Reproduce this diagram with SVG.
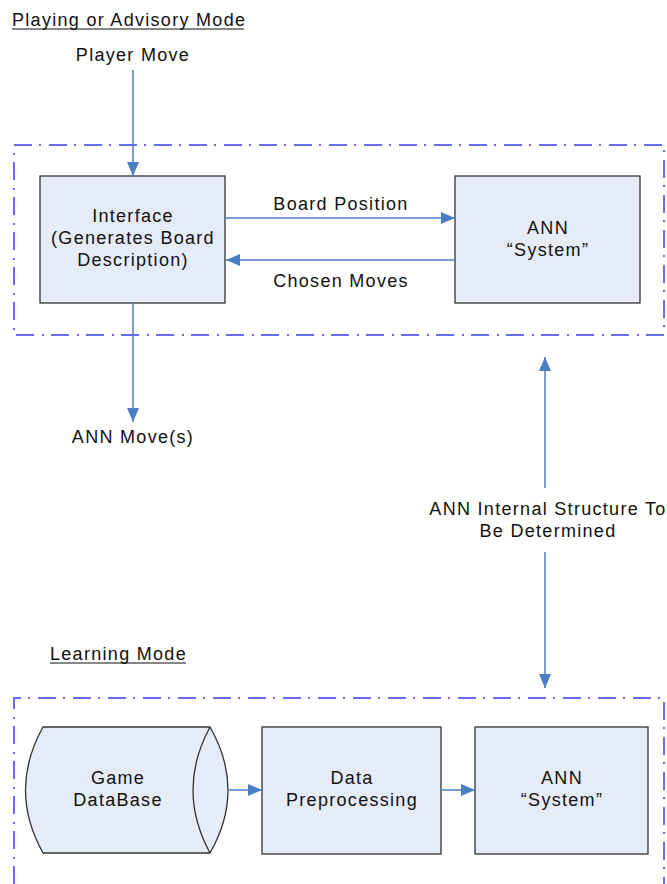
<svg xmlns="http://www.w3.org/2000/svg" width="667" height="884" viewBox="0 0 667 884">
<defs>
<style>
text{font-family:"Liberation Sans",Arial,sans-serif;font-size:18px;letter-spacing:1.3px;fill:#111;}
.c{text-anchor:middle;}
.box{fill:#E6ECF7;stroke:#333;stroke-width:1.3;}
.frame{fill:none;stroke:#6B6BF0;stroke-width:2;stroke-dasharray:18 7 2 8;}
.conn{stroke:#4A7EC4;stroke-width:1.5;fill:none;}
.ul{stroke:#111;stroke-width:1.2;}
</style>
<marker id="ah" viewBox="0 0 14 12" refX="14" refY="6" markerWidth="14" markerHeight="12" markerUnits="userSpaceOnUse" orient="auto-start-reverse">
<path d="M0,0 L14,6 L0,12 Z" fill="#4A7EC4"/>
</marker>
</defs>
<rect width="667" height="884" fill="#fff"/>

<g id="titles">
<text x="12" y="26">Playing or Advisory Mode</text>
<line class="ul" x1="12" y1="29" x2="244" y2="29"/>
<text x="50" y="660">Learning Mode</text>
<line class="ul" x1="50" y1="663" x2="186" y2="663"/>
</g>

<g id="frames">
<rect class="frame" x="14" y="145" width="650" height="190"/>
<path class="frame" d="M14,884 L14,698 L664,698 L664,884"/>
</g>

<g id="player-move"><text class="c" x="133" y="61">Player Move</text></g>

<g id="interface">
<rect class="box" x="40" y="176" width="185" height="127"/>
<text class="c" x="133" y="222">Interface</text>
<text class="c" x="133" y="244">(Generates Board</text>
<text class="c" x="133" y="266">Description)</text>
</g>

<g id="ann-top">
<rect class="box" x="455" y="176" width="185" height="127"/>
<text class="c" x="548" y="234">ANN</text>
<text class="c" x="548" y="256">“System”</text>
</g>

<g id="ann-moves"><text class="c" x="133" y="443">ANN Move(s)</text></g>

<g id="ann-structure-label">
<text class="c" x="548" y="515">ANN Internal Structure To</text>
<text class="c" x="548" y="537">Be Determined</text>
</g>

<g id="game-database">
<path class="box" d="M43,727 L210,727 Q246,790 210,853 L43,853 Q8,790 43,727 Z"/>
<path class="box" d="M210,727 Q176,790 210,853"/>
<text class="c" x="118" y="784">Game</text>
<text class="c" x="118" y="806">DataBase</text>
</g>

<g id="data-preprocessing">
<rect class="box" x="262" y="727" width="179" height="127"/>
<text class="c" x="352" y="784">Data</text>
<text class="c" x="352" y="806">Preprocessing</text>
</g>

<g id="ann-bottom">
<rect class="box" x="475" y="727" width="173" height="127"/>
<text class="c" x="562" y="784">ANN</text>
<text class="c" x="562" y="806">“System”</text>
</g>

<g id="connectors">
<line class="conn" x1="133" y1="70" x2="133" y2="176" marker-end="url(#ah)"/>
<line class="conn" x1="225" y1="218" x2="455" y2="218" marker-end="url(#ah)"/>
<line class="conn" x1="455" y1="260" x2="226" y2="260" marker-end="url(#ah)"/>
<line class="conn" x1="133" y1="303" x2="133" y2="422" marker-end="url(#ah)"/>
<line class="conn" x1="545" y1="488" x2="545" y2="357" marker-end="url(#ah)"/>
<line class="conn" x1="545" y1="552" x2="545" y2="688" marker-end="url(#ah)"/>
<line class="conn" x1="228" y1="790" x2="262" y2="790" marker-end="url(#ah)"/>
<line class="conn" x1="441" y1="790" x2="475" y2="790" marker-end="url(#ah)"/>
<text x="341" y="210" class="c">Board Position</text>
<text x="341" y="287" class="c">Chosen Moves</text>
</g>
</svg>
